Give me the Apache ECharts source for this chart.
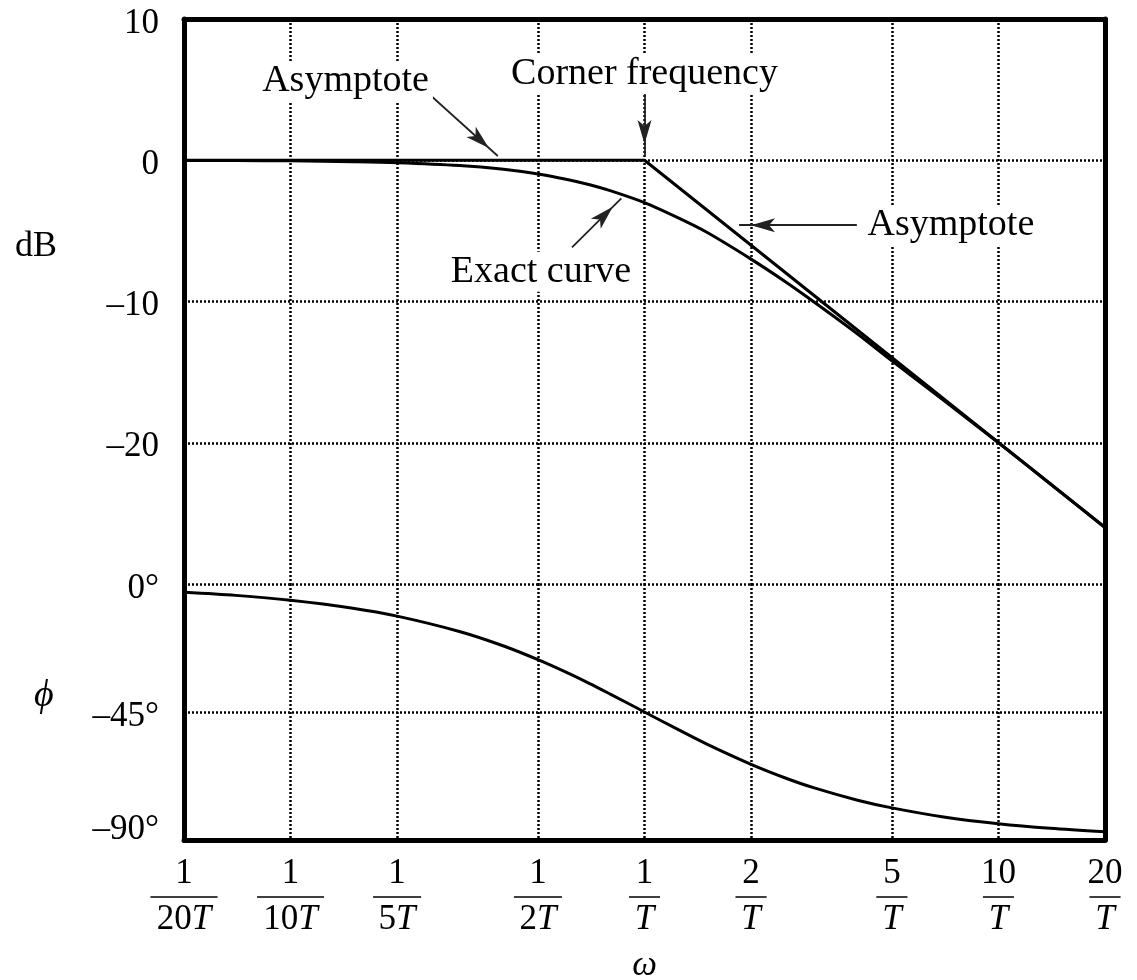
<!DOCTYPE html>
<html>
<head>
<meta charset="utf-8">
<title>Bode plot of a first-order lag</title>
<script src="https://cdn.jsdelivr.net/npm/echarts@6/dist/echarts.min.js"></script>
<style>
  html, body { margin: 0; padding: 0; background: #fff; }
  #chart { width: 1137px; height: 980px; }
</style>
</head>
<body>
<div id="chart"></div>
<script>
// frequency in units of 1/T
var omega = [0.05, 0.07, 0.1, 0.15, 0.2, 0.3, 0.4, 0.5, 0.6, 0.7, 0.8, 1, 1.25, 1.5, 2, 2.5, 3, 4, 5, 7, 10, 14, 20];
// exact magnitude curve, dB
var exactDb = [-0.01, -0.02, -0.04, -0.1, -0.17, -0.37, -0.64, -0.97, -1.34, -1.73, -2.15, -3.0, -4.1, -5.1, -7.0, -8.6, -10.0, -12.3, -14.2, -17.0, -20.0, -22.9, -26.0];
// straight-line asymptotes, dB
var asymOmega = [0.05, 1, 20];
var asymDb = [0, 0, -26];
// phase, degrees
var phaseDeg = [-2.9, -4.0, -5.7, -8.5, -11.3, -16.7, -21.8, -26.6, -31.0, -35.0, -38.7, -45.0, -51.3, -56.3, -63.4, -68.2, -71.6, -76.0, -78.7, -81.9, -84.3, -85.9, -87.1];

// x tick labels, written as fractions
var xTicks = [0.05, 0.1, 0.2, 0.5, 1, 2, 5, 10, 20];
var xTickNum = ['1', '1', '1', '1', '1', '2', '5', '10', '20'];
var xTickDen = ['20', '10', '5', '2', '', '', '', '', ''];

var serif = "'Liberation Serif', 'DejaVu Serif', serif";
var gridLine = { color: '#000', width: 2.5, type: [2, 2] };
var frame = { color: '#000', width: 5 };

function nearestTick(v) {
  var best = 0;
  for (var i = 1; i < xTicks.length; i++) {
    if (Math.abs(Math.log(v / xTicks[i])) < Math.abs(Math.log(v / xTicks[best]))) best = i;
  }
  return best;
}

function fmtDb(v) {
  if (v === -30) return '';
  return '{v|' + (v < 0 ? '\u2013' + Math.abs(v) : String(v)) + '}';
}

function fmtPhase(v) {
  if (v === -90) return '{up|\u201390°}';
  return '{v|' + (v < 0 ? '\u2013' + Math.abs(v) + '°' : v + '°') + '}';
}

function arrowEnd(coord) {
  return { coord: coord, symbol: 'arrow', symbolSize: [10.5, 24], symbolOffset: [0, 12] };
}

var digit = { fontFamily: serif, fontSize: 35, lineHeight: 44, align: 'center', color: '#000' };
function bar(w) {
  return { width: w, height: 0, lineHeight: 2, borderColor: '#000', borderWidth: 1, align: 'center' };
}
var yRich = {
  v: { fontFamily: serif, fontSize: 35, color: '#000', padding: [9, 0, 0, 0] },
  up: { fontFamily: serif, fontSize: 35, color: '#000', padding: [0, 0, 20, 0] }
};

var chart = echarts.init(document.getElementById('chart'));

chart.setOption({
  animation: false,
  backgroundColor: '#fff',
  textStyle: { fontFamily: serif, color: '#000' },
  title: [
    { text: 'dB', left: 15, top: 229, padding: 0,
      textStyle: { fontFamily: serif, fontSize: 36, fontWeight: 'normal', color: '#000' } },
    { text: '\u03d5', left: 34, top: 677, padding: 0,
      textStyle: { fontFamily: serif, fontSize: 38, fontWeight: 'normal', fontStyle: 'italic', color: '#000' } }
  ],
  grid: [
    { left: 184, right: 32, top: 19, height: 565, outerBoundsMode: 'none' },
    { left: 184, right: 32, top: 584, height: 256, outerBoundsMode: 'none' }
  ],
  xAxis: [
    {
      gridIndex: 0, type: 'log', min: 0.05, max: 20, position: 'top',
      axisLine: { show: true, onZero: false, lineStyle: frame },
      axisTick: { show: false, customValues: xTicks },
      axisLabel: { show: false, customValues: xTicks },
      splitLine: { show: true, showMinLine: false, showMaxLine: false, lineStyle: gridLine }
    },
    {
      gridIndex: 1, type: 'log', min: 0.05, max: 20, position: 'bottom',
      axisLine: { show: true, onZero: false, lineStyle: frame },
      axisTick: { show: false, customValues: xTicks },
      axisLabel: {
        show: true, margin: 12, color: '#000', customValues: xTicks,
        formatter: function (v) {
          var i = nearestTick(v);
          var d = xTickDen[i];
          var hr = d.length === 2 ? 'hrL' : (d.length === 1 ? 'hrM' : 'hrS');
          var den = d ? '{d|' + d + '}{t|T}' : '{t|T}';
          return '{n|' + xTickNum[i] + '}\n{' + hr + '|}\n' + den;
        },
        rich: {
          n: digit,
          d: digit,
          t: Object.assign({}, digit, { fontStyle: 'italic' }),
          hrL: bar(67),
          hrM: bar(48),
          hrS: bar(31)
        }
      },
      splitLine: { show: true, showMinLine: false, showMaxLine: false, lineStyle: gridLine },
      name: '\u03c9', nameLocation: 'middle', nameGap: 108,
      nameTextStyle: { fontFamily: serif, fontSize: 35, fontStyle: 'italic', color: '#000' }
    }
  ],
  yAxis: [
    {
      gridIndex: 0, type: 'value', min: -30, max: 10, interval: 10, position: 'left',
      axisLine: { show: true, onZero: false, lineStyle: frame },
      axisTick: { show: false },
      axisLabel: { margin: 25, color: '#000', fontFamily: serif, fontSize: 35, formatter: fmtDb, rich: yRich },
      splitLine: { show: true, showMinLine: false, showMaxLine: false, lineStyle: gridLine }
    },
    {
      gridIndex: 0, type: 'value', min: -30, max: 10, interval: 10, position: 'right',
      axisLine: { show: true, onZero: false, lineStyle: frame },
      axisTick: { show: false }, axisLabel: { show: false }, splitLine: { show: false }
    },
    {
      gridIndex: 1, type: 'value', min: -90, max: 0, interval: 45, position: 'left',
      axisLine: { show: true, onZero: false, lineStyle: frame },
      axisTick: { show: false },
      axisLabel: { margin: 25, color: '#000', fontFamily: serif, fontSize: 35, formatter: fmtPhase, rich: yRich },
      splitLine: { show: true, showMinLine: false, showMaxLine: true, lineStyle: gridLine }
    },
    {
      gridIndex: 1, type: 'value', min: -90, max: 0, interval: 45, position: 'right',
      axisLine: { show: true, onZero: false, lineStyle: frame },
      axisTick: { show: false }, axisLabel: { show: false }, splitLine: { show: false }
    }
  ],
  series: [
    {
      name: 'Exact curve', type: 'line', xAxisIndex: 0, yAxisIndex: 0,
      data: omega.map(function (w, i) { return [w, exactDb[i]]; }),
      symbol: 'none', smooth: 0.3,
      lineStyle: { color: '#000', width: 3 },
      markLine: {
        silent: true, animation: false,
        symbol: ['none', 'arrow'],
        label: { show: false },
        lineStyle: { color: '#222', width: 1.8, type: 'solid' },
        data: [
          [{ coord: [0.229, 5.4], symbol: 'none' }, arrowEnd([0.385, 0.3])],
          [{ coord: [1, 4.75], symbol: 'none' }, arrowEnd([1, 0.3])],
          [{ coord: [3.98, -4.6], symbol: 'none' }, arrowEnd([1.85, -4.6])],
          [{ coord: [0.624, -6.17], symbol: 'none' }, arrowEnd([0.86, -2.7])]
        ]
      },
      markPoint: {
        silent: true, animation: false,
        symbol: 'circle', symbolSize: 0,
        label: {
          show: true, position: 'inside', color: '#000', fontFamily: serif, fontSize: 38,
          backgroundColor: '#fff', padding: [1, 4],
          formatter: function (p) { return p.name; }
        },
        data: [
          { name: 'Asymptote', coord: [0.143, 5.6] },
          { name: 'Corner frequency', coord: [1.0, 6.1] },
          { name: 'Asymptote', coord: [7.34, -4.6] },
          { name: 'Exact curve', coord: [0.51, -7.9] }
        ]
      }
    },
    {
      name: 'Asymptote', type: 'line', xAxisIndex: 0, yAxisIndex: 0,
      data: asymOmega.map(function (w, i) { return [w, asymDb[i]]; }),
      symbol: 'none',
      lineStyle: { color: '#000', width: 3 }
    },
    {
      name: 'Phase', type: 'line', xAxisIndex: 1, yAxisIndex: 2,
      data: omega.map(function (w, i) { return [w, phaseDeg[i]]; }),
      symbol: 'none', smooth: 0.3,
      lineStyle: { color: '#000', width: 3 }
    }
  ]
});
</script>
</body>
</html>
